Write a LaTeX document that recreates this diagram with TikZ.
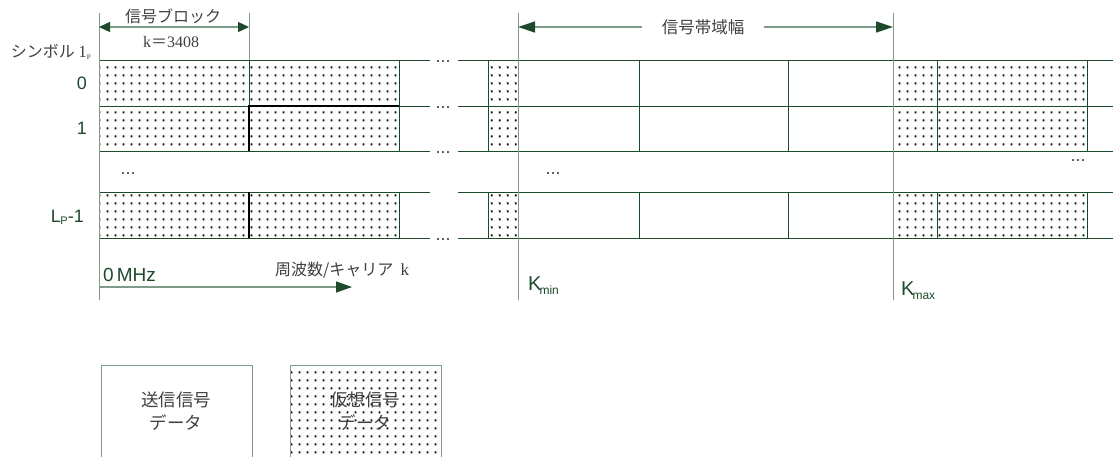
\documentclass[tikz,border=0pt]{standalone}
\usepackage{fontspec}
\setmainfont{Liberation Sans}
\newfontfamily\jp{Noto Sans CJK JP}
\newfontfamily\serifr{Liberation Serif}
\usetikzlibrary{patterns,arrows.meta}
\pgfdeclarepatternformonly{vdots}{\pgfpointorigin}{\pgfpoint{8pt}{7.5pt}}{\pgfpoint{8pt}{7.5pt}}{%
  \pgfpathrectangle{\pgfpoint{3pt}{2.8pt}}{\pgfpoint{2pt}{2pt}}\pgfusepath{fill}}
\definecolor{dg}{HTML}{1E4A2C}
\definecolor{lg}{HTML}{7F9C8A}
\definecolor{tg}{HTML}{404040}
\begin{document}
\begin{tikzpicture}[x=1pt,y=-1pt,
  cellline/.style={draw=dg,line width=1pt},
  guide/.style={draw=lg,line width=1pt},
  dotcell/.style={pattern=vdots,pattern color=black},
  tipA/.style={-{Triangle[length=16pt,width=11pt,color=dg]}},
  tipB/.style={-{Triangle[length=17pt,width=11pt,color=dg]}},
  arrline/.style={draw=lg,line width=1.3pt},
  jptext/.style={font=\jp\fontsize{16}{20}\selectfont,text=tg,inner sep=0pt},
  jpbig/.style={font=\jp\fontsize{17.5}{23}\selectfont,text=tg,inner sep=0pt,align=center},
  lbl/.style={font=\fontsize{18}{20}\selectfont,text=dg,inner sep=0pt},
  ell/.style={font=\fontsize{18}{18}\selectfont,text=tg,inner sep=0pt},
  legendbox/.style={draw=lg,line width=1pt,minimum width=151pt,minimum height=93pt,inner sep=0pt}]
\clip (0,0) rectangle (1113,456);
\fill[white] (0,0) rectangle (1113,456);

% ---- dotted cells ----
\foreach \ya/\yb in {60/106,106/151,192/238}{
  \fill[dotcell] (99,\ya) rectangle (399,\yb);
  \fill[dotcell] (488,\ya) rectangle (518,\yb);
  \fill[dotcell] (893,\ya) rectangle (1087,\yb);
  \foreach \x in {99,249,399}{\draw[cellline] (\x,\ya) -- (\x,\yb);}
  \foreach \x in {488,518,639,788,893,937,1087}{\draw[cellline] (\x,\ya) -- (\x,\yb);}
}
% ---- row lines ----
\foreach \y in {60,106,151,192,238}{
  \draw[cellline] (99,\y) -- (430,\y);
  \draw[cellline] (458,\y) -- (1113,\y);
}
\draw[draw=black,line width=1.6pt] (249,151) -- (249,106) -- (399,106);
\draw[draw=black,line width=1.6pt] (249,192) -- (249,238);

% ---- guide lines ----
\draw[guide] (99,13) -- (99,300);
\draw[guide] (249,13) -- (249,60);
\draw[guide] (518,13) -- (518,300);
\draw[guide] (893,13) -- (893,300);

% ---- ellipses ----
\foreach \y [count=\i] in {60,106,151,238}{\node[ell] (dl\i) at (443,\y+2) {...};}
\node[ell] (dv1) at (128,174) {...};
\node[ell] (dv2) at (553,174) {...};
\node[ell] (dv3) at (1078,161) {...};

% ---- signal block arrow ----
\coordinate (sb0) at (99,27);
\coordinate (sb1) at (249,27);
\draw[arrline,{Triangle[length=11pt,width=10pt,color=dg]}-{Triangle[length=11pt,width=10pt,color=dg]}] (sb0) -- (sb1);
\node[jptext] (sbt) at (173,16) {信号ブロック};
\node[font=\serifr\fontsize{16}{18}\selectfont,text=tg,inner sep=0pt] (sbk) at (171,42) {k{\jp＝}3408};

% ---- bandwidth arrow ----
\coordinate (kmn) at (518,27);
\coordinate (kmx) at (893,27);
\node[jptext,font=\jp\fontsize{16.5}{20}\selectfont,inner xsep=20pt] (bw) at (703,27) {信号帯域幅};
\draw[arrline,tipB] (bw) -- (kmn);
\draw[arrline,tipB] (bw) -- (kmx);

% ---- row labels ----
\node[jptext,anchor=east] (sym) at (91,52) {シンボル {\serifr\fontsize{17}{18}\selectfont 1}\raisebox{-2pt}{\serifr\fontsize{7}{8}\selectfont P}};
\node[lbl,anchor=east] (r0) at (87,83) {0};
\node[lbl,anchor=east] (r1) at (87,128) {1};
\node[lbl,anchor=east] (rl) at (84,217) {L\kern-0.5pt\raisebox{-2pt}{\fontsize{11}{12}\selectfont P}-1};

% ---- frequency axis ----
\coordinate (ax0) at (99,287);
\coordinate (ax1) at (352,287);
\draw[arrline,tipA] (ax0) -- (ax1);
\node[lbl,anchor=west,font=\fontsize{19}{20}\selectfont] (mhz) at (103,275) {0\,MHz};
\node[jptext,anchor=west] (fk) at (275,270) {周波数/キャリア\ \ {\serifr\fontsize{17}{18}\selectfont k}};
\node[lbl,anchor=west,font=\fontsize{20}{20}\selectfont] (kmin) at (528,286) {K\kern-2pt\raisebox{-4pt}{\fontsize{12}{12}\selectfont min}};
\node[lbl,anchor=west,font=\fontsize{20}{20}\selectfont] (kmax) at (901,291) {K\kern-2pt\raisebox{-4pt}{\fontsize{12}{12}\selectfont max}};

% ---- legend ----
\node[legendbox,anchor=north west] (lg1) at (101,365) {};
\node[jpbig] (lg1t) at (176,411) {送信信号\\データ};
\node[legendbox,anchor=north west,pattern=vdots,pattern color=black] (lg2) at (290,365) {};
\node[jpbig] (lg2t) at (365,411) {仮想信号\\データ};
\end{tikzpicture}
\end{document}
